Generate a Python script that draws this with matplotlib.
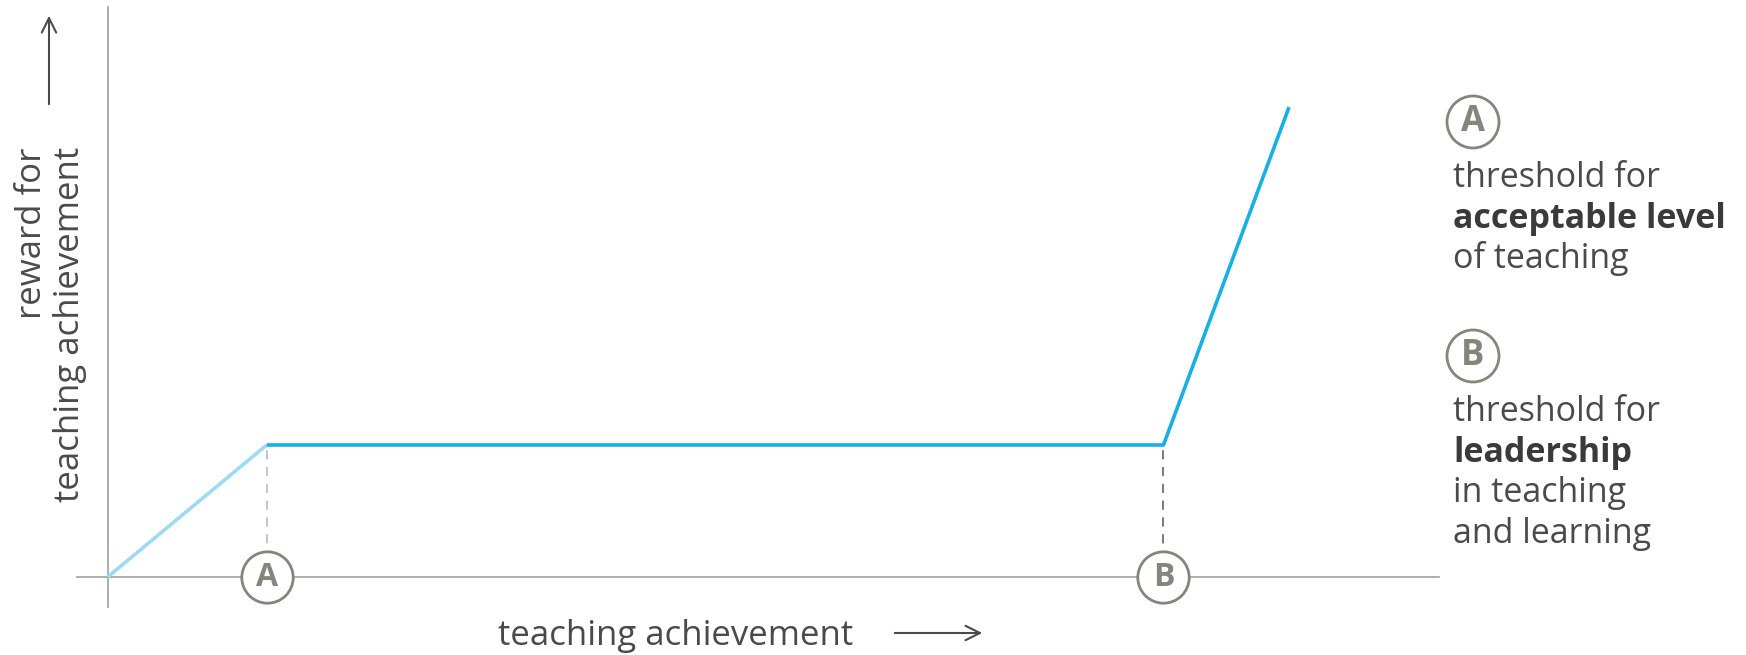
import matplotlib.pyplot as plt
from matplotlib.patches import FancyArrowPatch, Ellipse

# reward curve: origin -> threshold A -> threshold B -> steep rise
x_vals = [0, 10, 66.4, 74.3]
y_vals = [0, 10, 10, 35.6]
thresholds = ['A', 'B']
threshold_x = [10, 66.4]
legend_A = ['threshold for', 'acceptable level', 'of teaching']
legend_B = ['threshold for', 'leadership', 'in teaching', 'and learning']
bold_A = [False, True, False]
bold_B = [False, True, False, False]

W, H = 1746, 655
fig = plt.figure(figsize=(W / 100, H / 100), dpi=100)
ax = fig.add_axes([0, 0, 1, 1])
# 15.9 px per x unit, 13.2 px per y unit, origin at pixel (107.7, 577)
ax.set_xlim(-107.7 / 15.9, (W - 107.7) / 15.9)
ax.set_ylim(-(H - 577) / 13.2, 577 / 13.2)
ax.axis('off')

plt.rcParams['font.family'] = ['Open Sans', 'DejaVu Sans']
txt = '#4a4a4a'
circ = '#85857c'

# axes lines
ax.plot([0, 0], [-2.27, 43.2], color='#a0a0a0', lw=1.2, zorder=1)
ax.plot([-1.93, 83.7], [0, 0], color='#a0a0a0', lw=1.2, zorder=1)

# curve
ax.plot(x_vals[:2], y_vals[:2], color='#9fdaf4', lw=2.6, solid_capstyle='butt', zorder=3)
ax.plot(x_vals[1:], y_vals[1:], color='#17b0e6', lw=2.6, solid_capstyle='butt', zorder=3)

# threshold markers
dash_cols = ['#b5b5b5', '#555555']
for lab, tx, dc in zip(thresholds, threshold_x, dash_cols):
    ax.plot([tx, tx], [0, 10], color=dc, lw=1.1, ls=(0, (6, 5)), zorder=2)
    ax.plot(tx, 0, marker='o', ms=37, mfc='white', mec=circ, mew=2.0, zorder=4)
    ax.text(tx, 0, lab, ha='center', va='center', fontsize=23, fontweight='bold',
            color=circ, zorder=5)

def px(x, y):
    return x / W, 1 - y / H

# axis labels
fig.text(*px(676, 636), 'teaching achievement', ha='center', va='center',
         fontsize=25, color=txt)
fig.patches.append(FancyArrowPatch(
    px(892, 633), px(985, 633), transform=fig.transFigure, arrowstyle='->',
    mutation_scale=26, color=txt, lw=1.5))
fig.text(*px(32, 148), 'reward for', rotation=90, ha='center', va='top',
         fontsize=25, color=txt)
fig.text(*px(70, 147), 'teaching achievement', rotation=90, ha='center', va='top',
         fontsize=25, color=txt)
fig.patches.append(FancyArrowPatch(
    px(49, 107), px(49, 13), transform=fig.transFigure, arrowstyle='->',
    mutation_scale=26, color=txt, lw=1.5))

# legend on the right
def legend_block(letter, cy, lines, bolds):
    cx = 1473
    fig.patches.append(Ellipse(
        px(cx, cy), 52 / W, 52 / H, transform=fig.transFigure,
        facecolor='white', edgecolor=circ, lw=2.0))
    fig.text(*px(cx, cy), letter, ha='center', va='center', fontsize=25,
             fontweight='bold', color=circ)
    for i, (line, b) in enumerate(zip(lines, bolds)):
        fig.text(*px(1453, cy + 65 + 40.7 * i), line, ha='left', va='baseline',
                 fontsize=24.5, color='#3a3a3a' if b else txt,
                 fontweight='bold' if b else 'normal')

legend_block('A', 122, legend_A, bold_A)
legend_block('B', 356, legend_B, bold_B)

fig.savefig('out.png', dpi=100)
